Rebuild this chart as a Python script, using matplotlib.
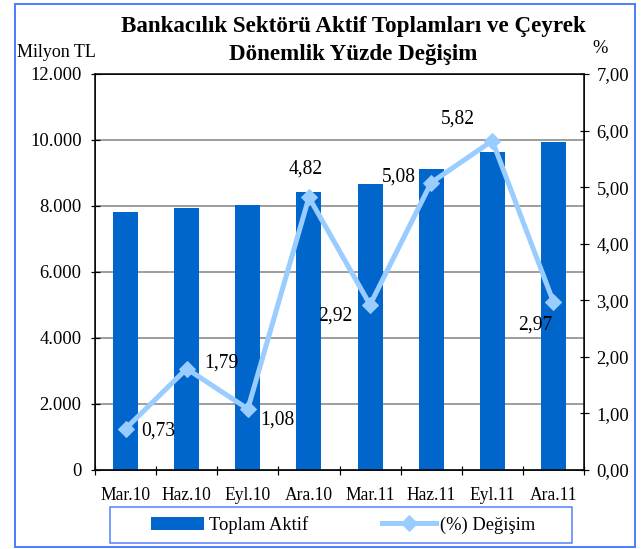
import matplotlib.pyplot as plt
import numpy as np
from matplotlib.ticker import FuncFormatter

plt.rcParams['font.family'] = ['Liberation Serif', 'DejaVu Serif']

# donemler ve degerler
donemler = ['Mar.10', 'Haz.10', 'Eyl.10', 'Ara.10', 'Mar.11', 'Haz.11', 'Eyl.11', 'Ara.11']
toplam_aktif = [7820, 7940, 8030, 8430, 8670, 9120, 9640, 9940]
degisim = [0.73, 1.79, 1.08, 4.82, 2.92, 5.08, 5.82, 2.97]
etiket_kayma = [(33, -2), (35, 6), (30, -11), (-3, 28), (-35, -11), (-32, 6), (-34, 22), (-18, -23)]

bar_renk = '#0066CC'
cizgi_renk = '#99CCFF'
cerceve_renk = '#4D7FFF'

fig = plt.figure(figsize=(641 / 72, 549 / 72), dpi=72)
ax = fig.add_axes([95 / 641, 79 / 549, 489 / 641, 396 / 549])
x = np.arange(len(donemler))

ax.bar(x, toplam_aktif, width=0.41, color=bar_renk, label='Toplam Aktif', zorder=2)
ax.set_ylim(0, 12000)
ax.set_xlim(-0.5, len(donemler) - 0.5)
ax.set_yticks(np.arange(0, 12001, 2000))
ax.yaxis.set_major_formatter(FuncFormatter(lambda v, p: '{:,.0f}'.format(v).replace(',', '.')))
ax.grid(axis='y', color='#808080', linewidth=1.5, zorder=0)
ax.set_axisbelow(True)

ax.set_xticks(x)
ax.set_xticklabels(donemler)
ax.set_xticks(np.arange(-0.5, len(donemler), 1), minor=True)
ax.tick_params(axis='x', which='major', length=0, labelsize=17.5, pad=17)
ax.tick_params(axis='x', which='minor', length=9, direction='inout', width=1.2)
ax.tick_params(axis='y', length=9, direction='inout', width=1.2, labelsize=18.5, pad=9)
for s in ax.spines.values():
    s.set_linewidth(1.5)

ax2 = ax.twinx()
ax2.plot(x, degisim, color=cizgi_renk, linewidth=5, marker='D', markersize=11,
         label='(%) Değişim', zorder=3)
ax2.set_ylim(0, 7)
ax2.set_yticks(np.arange(0, 7.01, 1))
ax2.yaxis.set_major_formatter(FuncFormatter(lambda v, p: '{:.2f}'.format(v).replace('.', ',')))
ax2.tick_params(axis='y', length=9, direction='inout', width=1.2, labelsize=18.5, pad=8)

for i, v in enumerate(degisim):
    ax2.annotate('{:.2f}'.format(v).replace('.', ','), (x[i], v), xytext=etiket_kayma[i],
                 textcoords='offset points', ha='center', va='center', fontsize=19.5)

fig.text(353 / 641, 1 - 32 / 549, 'Bankacılık Sektörü Aktif Toplamları ve Çeyrek',
         ha='center', va='baseline', fontsize=23, fontweight='bold')
fig.text(353 / 641, 1 - 60 / 549, 'Dönemlik Yüzde Değişim',
         ha='center', va='baseline', fontsize=23, fontweight='bold')
fig.text(17 / 641, 1 - 57 / 549, 'Milyon TL', ha='left', va='baseline', fontsize=18)
fig.text(600 / 641, 1 - 53 / 549, '%', ha='center', va='baseline', fontsize=18.5)

h1, l1 = ax.get_legend_handles_labels()
h2, l2 = ax2.get_legend_handles_labels()
leg = fig.legend(h1 + h2, l1 + l2, loc='center', bbox_to_anchor=(343 / 641, 1 - 525 / 549),
                 ncol=2, fontsize=18.5, frameon=False, columnspacing=4.0,
                 handlelength=2.9, handletextpad=0.25, borderpad=0.2)

# legend cercevesi ve dis cerceve
fig.patches.append(plt.Rectangle((110 / 641, 6 / 549), 462 / 641, 36 / 549, transform=fig.transFigure,
                                 fill=False, edgecolor=cerceve_renk, linewidth=1.5))
fig.patches.append(plt.Rectangle((15 / 641, 2 / 549), 620 / 641, 543 / 549, transform=fig.transFigure,
                                 fill=False, edgecolor=cerceve_renk, linewidth=2))

fig.savefig('out.png', dpi=72)
